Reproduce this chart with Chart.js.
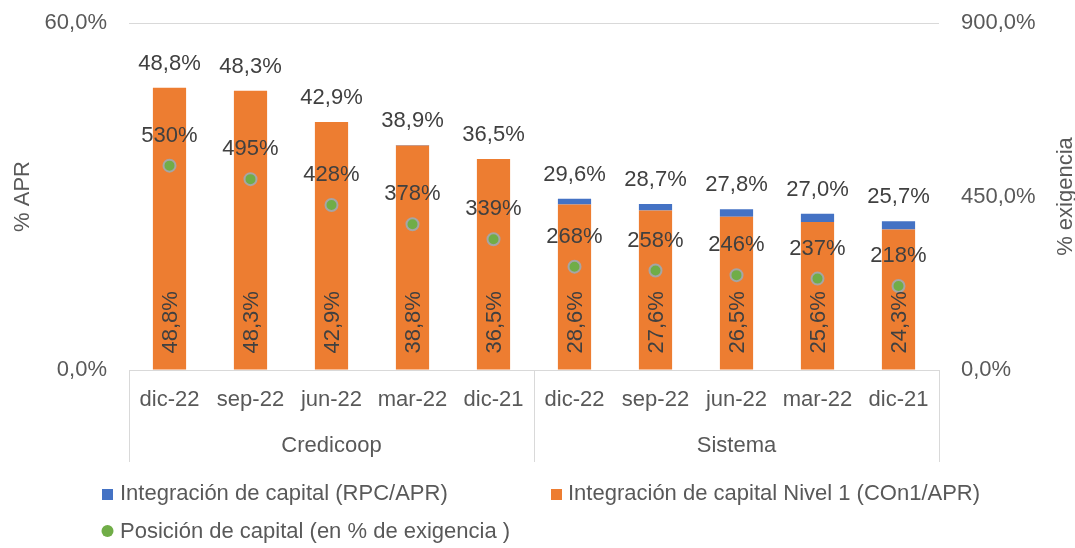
<!DOCTYPE html>
<html><head><meta charset="utf-8">
<script src="https://cdn.jsdelivr.net/npm/chart.js@4.4.1/dist/chart.umd.min.js"></script>
<style>html,body{margin:0;padding:0;background:#fff}#wrap{width:1075px;height:548px;position:relative}</style>
</head><body><div id="wrap"><canvas id="c" width="1075" height="548"></canvas></div>
<script>
const months = ['dic-22','sep-22','jun-22','mar-22','dic-21'];
const groups = ['Credicoop','Sistema'];
const rpcApr = [48.8,48.3,42.9,38.9,36.5,29.6,28.7,27.8,27.0,25.7];
const con1Apr = [48.8,48.3,42.9,38.8,36.5,28.6,27.6,26.5,25.6,24.3];
const posicion = [530,495,428,378,339,268,258,246,237,218];
const seriesNames = ['Integración de capital (RPC/APR)','Integración de capital Nivel 1 (COn1/APR)','Posición de capital (en % de exigencia )'];
const leftTicks = [0,60];
const rightTicks = [0,450,900];

const labels = [];
groups.forEach(g => months.forEach(m => labels.push(m)));
const blueDiff = rpcApr.map((v,i) => Math.round((v - con1Apr[i])*10)/10);

const FONT = '"Liberation Sans", Arial, sans-serif';
const FS = 22;
const fmt1 = v => v.toFixed(1).replace('.',',') + '%';

const labelPlugin = {
  id: 'labelPlugin',
  afterDatasetsDraw(chart) {
    const ctx = chart.ctx;
    const mOr = chart.getDatasetMeta(0), mBl = chart.getDatasetMeta(1), mPt = chart.getDatasetMeta(2);
    ctx.save();
    ctx.font = FS + 'px ' + FONT;
    ctx.fillStyle = '#404040';
    mBl.data.forEach((el, i) => {
      ctx.textAlign = 'center'; ctx.textBaseline = 'middle';
      ctx.fillText(fmt1(rpcApr[i]), el.x, el.y - 24);
    });
    mOr.data.forEach((el, i) => {
      ctx.save();
      ctx.translate(el.x, el.base - 16);
      ctx.rotate(-Math.PI/2);
      ctx.textAlign = 'left'; ctx.textBaseline = 'middle';
      ctx.fillText(fmt1(con1Apr[i]), 0, 1);
      ctx.restore();
    });
    mPt.data.forEach((el, i) => {
      ctx.textAlign = 'center'; ctx.textBaseline = 'middle';
      ctx.fillText(posicion[i] + '%', el.x, el.y - 30);
    });
    ctx.restore();
  },
  afterDraw(chart) {
    const ctx = chart.ctx, ca = chart.chartArea, xs = chart.scales.x;
    ctx.save();
    ctx.strokeStyle = '#D9D9D9'; ctx.lineWidth = 1;
    const mid = (xs.getPixelForValue(4) + xs.getPixelForValue(5)) / 2;
    [ca.left, mid, ca.right].forEach(x => {
      ctx.beginPath(); ctx.moveTo(Math.round(x)+0.5, ca.bottom); ctx.lineTo(Math.round(x)+0.5, 462); ctx.stroke();
    });
    ctx.beginPath(); ctx.moveTo(ca.left, Math.round(ca.bottom)+0.5); ctx.lineTo(ca.right, Math.round(ca.bottom)+0.5); ctx.stroke();
    ctx.font = FS + 'px ' + FONT; ctx.fillStyle = '#595959';
    ctx.textAlign = 'center'; ctx.textBaseline = 'middle';
    ctx.fillText(groups[0], (ca.left + mid)/2, 446);
    ctx.fillText(groups[1], (mid + ca.right)/2, 446);
    const yc = (ca.top + ca.bottom)/2;
    [[23, yc], [1066, yc]].forEach((p, k) => {
      ctx.save(); ctx.translate(p[0], p[1]); ctx.rotate(-Math.PI/2);
      ctx.fillText(k === 0 ? '% APR' : '% exigencia', 0, 0);
      ctx.restore();
    });
    ctx.textAlign = 'left';
    ctx.fillStyle = '#4472C4'; ctx.fillRect(102, 489, 11, 11);
    ctx.fillStyle = '#ED7D31'; ctx.fillRect(551, 489, 11, 11);
    ctx.beginPath(); ctx.arc(107.5, 531, 6, 0, Math.PI*2); ctx.fillStyle = '#70AD47'; ctx.fill();
    ctx.fillStyle = '#595959';
    ctx.fillText(seriesNames[0], 120, 494);
    ctx.fillText(seriesNames[1], 568, 494);
    ctx.fillText(seriesNames[2], 120, 532);
    ctx.restore();
  }
};

new Chart(document.getElementById('c'), {
  data: {
    labels: labels,
    datasets: [
      { type: 'bar', label: seriesNames[1], data: con1Apr, backgroundColor: '#ED7D31', stack: 's', yAxisID: 'y', order: 2 },
      { type: 'bar', label: seriesNames[0], data: blueDiff, backgroundColor: '#4472C4', stack: 's', yAxisID: 'y', order: 2 },
      { type: 'line', label: seriesNames[2], data: posicion, yAxisID: 'y1', showLine: false, order: 1,
        pointRadius: 6, pointHoverRadius: 6, pointBackgroundColor: '#70AD47', pointBorderColor: '#A5A5A5', pointBorderWidth: 2 }
    ]
  },
  options: {
    responsive: false, animation: false,
    layout: { padding: { top: 23, left: 0, right: 0, bottom: 0 } },
    plugins: { legend: { display: false }, tooltip: { enabled: false } },
    datasets: { bar: { categoryPercentage: 1, barPercentage: 0.41 } },
    scales: {
      x: {
        stacked: true,
        grid: { display: false, drawTicks: false },
        border: { display: false },
        ticks: { color: '#595959', font: { family: FONT, size: FS }, padding: 17, maxRotation: 0, autoSkip: false },
        afterFit: s => { s.height = 178; s.paddingLeft = 0; s.paddingRight = 0; }
      },
      y: {
        stacked: true, position: 'left', min: 0, max: 60,
        afterBuildTicks: s => { s.ticks = leftTicks.map(v => ({ value: v })); },
        grid: { color: '#D9D9D9', drawTicks: false, lineWidth: 1 },
        border: { display: false },
        ticks: { color: '#595959', font: { family: FONT, size: FS }, padding: 22, callback: v => fmt1(v) },
        afterFit: s => { s.width = 129; s.paddingTop = 0; s.paddingBottom = 0; }
      },
      y1: {
        position: 'right', min: 0, max: 900,
        afterBuildTicks: s => { s.ticks = rightTicks.map(v => ({ value: v })); },
        grid: { display: false, drawTicks: false },
        border: { display: false },
        ticks: { color: '#595959', font: { family: FONT, size: FS }, padding: 22, callback: v => fmt1(v) },
        afterFit: s => { s.width = 136; s.paddingTop = 0; s.paddingBottom = 0; }
      }
    }
  },
  plugins: [labelPlugin]
});
</script></body></html>
